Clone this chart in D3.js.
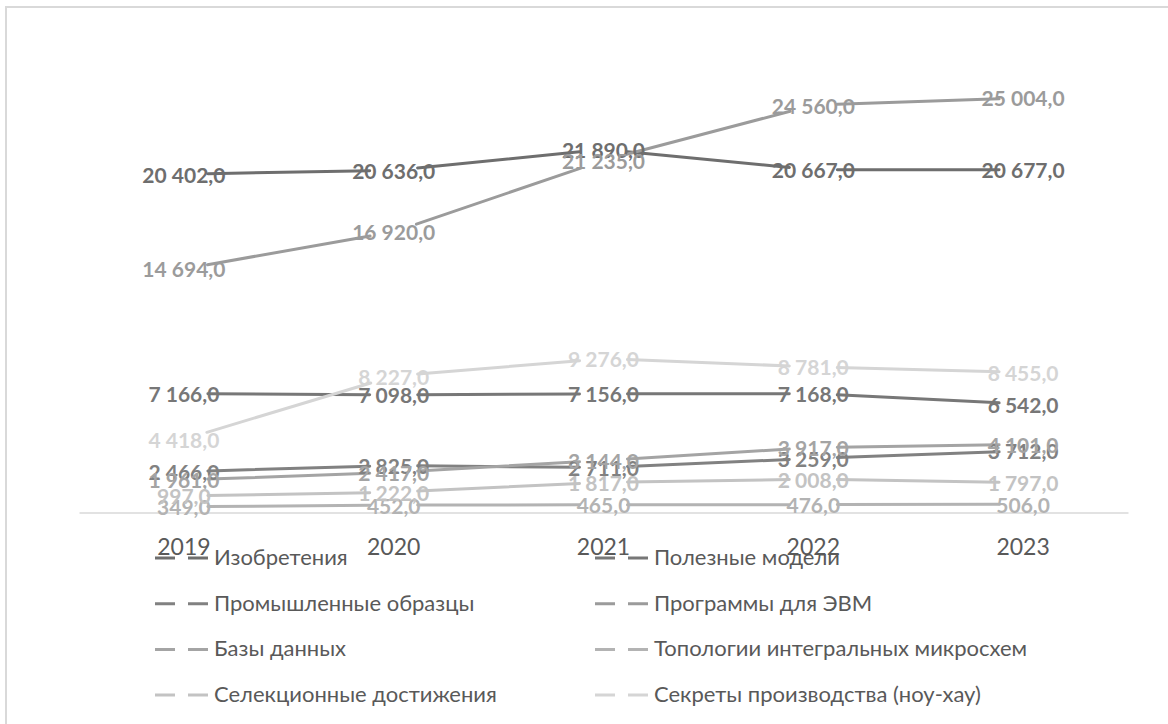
<!DOCTYPE html>
<html>
<head>
<meta charset="utf-8">
<script src="https://cdn.jsdelivr.net/npm/d3@7"></script>
<style>
  html, body { margin: 0; padding: 0; background: #fff; }
  svg { display: block; }
</style>
</head>
<body>
<svg id="chart" width="1168" height="724"></svg>
<script>
// Years on the category axis
const years = ["2019", "2020", "2021", "2022", "2023"];

// Series names (legend order)
const seriesNames = [
  "Изобретения",
  "Полезные модели",
  "Промышленные образцы",
  "Программы для ЭВМ",
  "Базы данных",
  "Топологии интегральных микросхем",
  "Селекционные достижения",
  "Секреты производства (ноу-хау)"
];

// Values per series, 2019–2023
const inventions      = [20402, 20636, 21890, 20667, 20677];
const utilityModels   = [7166, 7098, 7156, 7168, 6542];
const industrialDes   = [2466, 2825, 2711, 3259, 3712];
const software        = [14694, 16920, 21235, 24560, 25004];
const databases       = [1961, 2417, 3144, 3917, 4101];
const topologies      = [349, 452, 465, 476, 506];
const breeding        = [997, 1222, 1817, 2008, 1797];
const knowHow         = [4418, 8227, 9276, 8781, 8455];

const seriesValues = [inventions, utilityModels, industrialDes, software,
                      databases, topologies, breeding, knowHow];

// Grey shades, darkest first
const seriesColors = ["#6e6e6e", "#777777", "#818181", "#9b9b9b",
                      "#a4a4a4", "#b3b3b3", "#c3c3c3", "#d5d5d5"];

const svg = d3.select("#chart");

// Chart frame
svg.append("rect")
  .attr("x", 6).attr("y", 7)
  .attr("width", 1200).attr("height", 800)
  .attr("fill", "none")
  .attr("stroke", "#d9d9d9")
  .attr("stroke-width", 2);

const plot = { left: 79, right: 1128, top: 15, bottom: 512.5 };

const x = d3.scaleBand().domain(years).range([plot.left, plot.right]);
const cx = d => x(d) + x.bandwidth() / 2;
const y = d3.scaleLinear().domain([0, 30000]).range([plot.bottom, plot.top]);

const fontFamily = "Lato, 'Noto Sans', 'Open Sans', sans-serif";
const locale = d3.formatLocale({ decimal: ",", thousands: "\u00a0", grouping: [3], currency: ["", ""] });
const fmt = locale.format(",.1f");

// Category axis (line only, labels below)
const xAxis = d3.axisBottom(x).tickSize(0).tickPadding(0);
const axisG = svg.append("g")
  .attr("transform", `translate(0,${plot.bottom})`)
  .call(xAxis);
axisG.select(".domain").attr("stroke", "#d9d9d9").attr("stroke-width", 1.5);
axisG.selectAll(".tick text")
  .attr("y", 42)
  .attr("dy", 0)
  .attr("fill", "#595959")
  .style("font-family", fontFamily)
  .style("font-size", "23px");

// Lines: each segment is stopped short of the data points
const inset = 24;
const series = seriesNames.map((name, i) => ({
  name, color: seriesColors[i],
  points: years.map((yr, j) => ({ yr, v: seriesValues[i][j], px: cx(yr), py: y(seriesValues[i][j]) }))
}));

const linesG = svg.append("g");
series.forEach(s => {
  const segs = d3.pairs(s.points).map(([a, b]) => {
    const dx = b.px - a.px, dy = b.py - a.py;
    const len = Math.hypot(dx, dy);
    const ux = dx / len, uy = dy / len;
    return { x1: a.px + ux * inset, y1: a.py + uy * inset, x2: b.px - ux * inset, y2: b.py - uy * inset };
  });
  linesG.append("g").selectAll("line").data(segs).join("line")
    .attr("x1", d => d.x1).attr("y1", d => d.y1)
    .attr("x2", d => d.x2).attr("y2", d => d.y2)
    .attr("stroke", s.color)
    .attr("stroke-width", 3)
    .attr("stroke-linecap", "round");
});

// Data labels, centred on each point
const labelsG = svg.append("g");
series.forEach(s => {
  labelsG.append("g").selectAll("text").data(s.points).join("text")
    .attr("x", d => d.px)
    .attr("y", d => d.py)
    .attr("text-anchor", "middle")
    .attr("dominant-baseline", "central")
    .attr("fill", s.color)
    .style("font-family", fontFamily)
    .style("font-size", "21px")
    .style("font-weight", "bold")
    .text(d => fmt(d.v));
});

// Legend: two columns, four rows
const legend = svg.append("g");
const colX = [155, 595];
const rowY0 = 558, rowStep = 45.7;
series.forEach((s, i) => {
  const col = i % 2, row = Math.floor(i / 2);
  const g = legend.append("g")
    .attr("transform", `translate(${colX[col]},${rowY0 + row * rowStep})`);
  g.append("line")
    .attr("x1", 0).attr("x2", 54).attr("y1", 0).attr("y2", 0)
    .attr("stroke", s.color)
    .attr("stroke-width", 3)
    .attr("stroke-dasharray", "20,13");
  g.append("text")
    .attr("x", 59).attr("y", 7)
    .attr("fill", "#595959")
    .style("font-family", fontFamily)
    .style("font-size", "22px")
    .text(s.name);
});
</script>
</body>
</html>
